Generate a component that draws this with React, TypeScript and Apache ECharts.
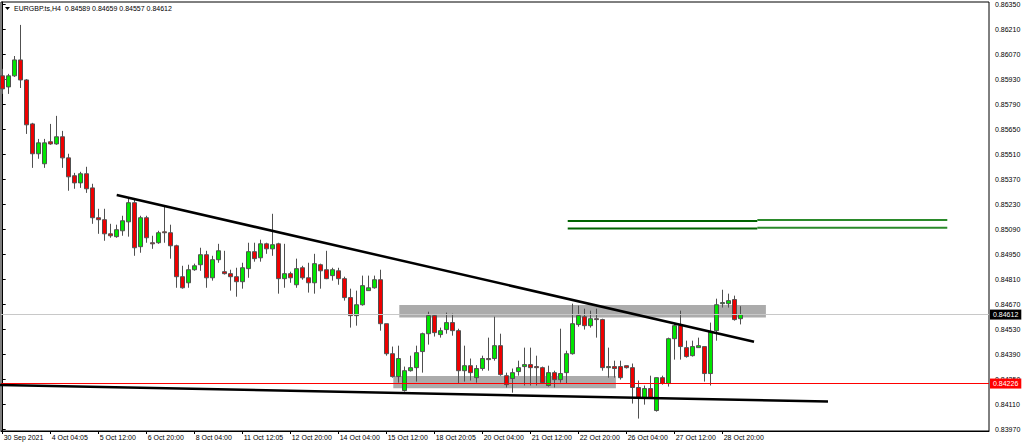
import React, { useEffect, useRef } from "react";
import * as echarts from "echarts";

const opens = [0.85948,0.85886,0.85948,0.86037,0.85925,0.85679,0.85512,0.85456,0.85579,0.85567,0.85607,0.85489,0.85389,0.85349,0.85400,0.85321,0.85154,0.85143,0.85064,0.85048,0.85081,0.85131,0.85238,0.84992,0.85154,0.85014,0.85014,0.85075,0.85070,0.84997,0.84824,0.84790,0.84863,0.84891,0.84947,0.84818,0.84919,0.84852,0.84841,0.84824,0.84796,0.84869,0.84964,0.84930,0.85008,0.84980,0.85008,0.84813,0.84841,0.84779,0.84874,0.84818,0.84790,0.84891,0.84863,0.84830,0.84857,0.84813,0.84707,0.84606,0.84667,0.84746,0.84762,0.84807,0.84561,0.84393,0.84265,0.84187,0.84298,0.84315,0.84405,0.84505,0.84606,0.84500,0.84528,0.84567,0.84522,0.84298,0.84326,0.84259,0.84310,0.84366,0.84366,0.84438,0.84270,0.84254,0.84293,0.84321,0.84332,0.84321,0.84315,0.84215,0.84287,0.84248,0.84287,0.84393,0.84556,0.84600,0.84550,0.84589,0.84584,0.84315,0.84321,0.84321,0.84326,0.84315,0.84204,0.84148,0.84198,0.84075,0.84259,0.84226,0.84477,0.84550,0.84427,0.84382,0.84427,0.84433,0.84282,0.84522,0.84673,0.84673,0.84696,0.84589];
const highs = [0.85987,0.85959,0.86059,0.86233,0.85930,0.85685,0.85595,0.85595,0.85679,0.85724,0.85640,0.85512,0.85405,0.85411,0.85439,0.85344,0.85204,0.85204,0.85120,0.85115,0.85165,0.85266,0.85260,0.85165,0.85165,0.85053,0.85081,0.85215,0.85115,0.85003,0.84885,0.84891,0.84897,0.84986,0.84969,0.84941,0.85008,0.84969,0.84863,0.84874,0.84902,0.85014,0.85014,0.85031,0.85014,0.85176,0.85014,0.85008,0.84852,0.84925,0.84885,0.84902,0.84952,0.84897,0.84969,0.84874,0.84874,0.84824,0.84757,0.84746,0.84830,0.84830,0.84830,0.84863,0.84561,0.84433,0.84438,0.84321,0.84382,0.84438,0.84511,0.84628,0.84612,0.84539,0.84623,0.84617,0.84533,0.84438,0.84366,0.84329,0.84382,0.84483,0.84600,0.84505,0.84287,0.84310,0.84354,0.84427,0.84427,0.84382,0.84321,0.84326,0.84298,0.84533,0.84410,0.84673,0.84662,0.84645,0.84634,0.84645,0.84589,0.84427,0.84354,0.84354,0.84326,0.84338,0.84243,0.84215,0.84270,0.84259,0.84270,0.84483,0.84561,0.84634,0.84466,0.84466,0.84483,0.84433,0.84567,0.84701,0.84751,0.84729,0.84718,0.84659];
const lows = [0.85847,0.85847,0.85942,0.85880,0.85623,0.85433,0.85484,0.85433,0.85562,0.85562,0.85433,0.85305,0.85316,0.85321,0.85293,0.85120,0.85064,0.85025,0.85042,0.85042,0.85053,0.85048,0.84941,0.84958,0.85014,0.84980,0.85008,0.85014,0.84925,0.84762,0.84757,0.84762,0.84857,0.84857,0.84762,0.84802,0.84902,0.84836,0.84746,0.84712,0.84757,0.84818,0.84908,0.84908,0.84952,0.84941,0.84729,0.84762,0.84790,0.84762,0.84807,0.84735,0.84729,0.84757,0.84810,0.84802,0.84779,0.84690,0.84539,0.84550,0.84662,0.84746,0.84757,0.84522,0.84382,0.84259,0.84231,0.84181,0.84293,0.84237,0.84287,0.84444,0.84489,0.84483,0.84505,0.84494,0.84226,0.84237,0.84243,0.84231,0.84298,0.84298,0.84354,0.84270,0.84204,0.84175,0.84270,0.84215,0.84215,0.84215,0.84226,0.84209,0.84204,0.84231,0.84226,0.84388,0.84544,0.84528,0.84539,0.84483,0.84298,0.84259,0.84259,0.84248,0.84310,0.84114,0.84030,0.84108,0.84142,0.84069,0.84220,0.84209,0.84360,0.84360,0.84371,0.84377,0.84427,0.84237,0.84215,0.84466,0.84651,0.84651,0.84578,0.84557];
const closes = [0.85875,0.85948,0.86037,0.85925,0.85674,0.85512,0.85573,0.85573,0.85567,0.85607,0.85489,0.85383,0.85349,0.85400,0.85316,0.85154,0.85143,0.85064,0.85053,0.85087,0.85137,0.85238,0.84986,0.85154,0.85042,0.85008,0.85070,0.85070,0.84997,0.84824,0.84762,0.84863,0.84885,0.84947,0.84818,0.84919,0.84969,0.84841,0.84824,0.84796,0.84874,0.84964,0.84925,0.85008,0.84980,0.85003,0.84813,0.84841,0.84818,0.84869,0.84818,0.84790,0.84897,0.84857,0.84813,0.84863,0.84813,0.84707,0.84606,0.84667,0.84774,0.84762,0.84807,0.84561,0.84393,0.84265,0.84366,0.84298,0.84315,0.84399,0.84505,0.84606,0.84511,0.84522,0.84567,0.84522,0.84298,0.84326,0.84287,0.84310,0.84366,0.84360,0.84438,0.84276,0.84220,0.84287,0.84315,0.84332,0.84315,0.84315,0.84231,0.84287,0.84248,0.84282,0.84393,0.84561,0.84606,0.84550,0.84589,0.84584,0.84315,0.84321,0.84310,0.84259,0.84315,0.84204,0.84148,0.84198,0.84148,0.84259,0.84226,0.84477,0.84550,0.84433,0.84377,0.84433,0.84438,0.84282,0.84516,0.84667,0.84679,0.84690,0.84584,0.84612];

const timeLabelIndex = [0, 8, 16, 24, 32, 40, 48, 56, 64, 72, 80, 88, 96, 104, 112, 120];
const timeLabels = ["30 Sep 2021", "4 Oct 04:05", "5 Oct 12:00", "6 Oct 20:00", "8 Oct 04:00", "11 Oct 12:05", "12 Oct 20:00", "14 Oct 04:00", "15 Oct 12:00", "18 Oct 20:05", "20 Oct 04:00", "21 Oct 12:00", "22 Oct 20:00", "26 Oct 04:00", "27 Oct 12:00", "28 Oct 20:00"];

const priceTicks = [0.8397, 0.8411, 0.8425, 0.8439, 0.8453, 0.8467, 0.8481, 0.8495, 0.8509, 0.8523, 0.8537, 0.8551, 0.8565, 0.8579, 0.8593, 0.8607, 0.8621, 0.8635];

const resistanceTrend = [[19, 0.85281], [125.22, 0.8446]];
const supportTrend = [[-0.45, 0.84218], [137.55, 0.84125]];
// [xStart, xEnd, low, high]
const zones = [[66.1, 127.2, 0.84596, 0.84666], [65.1, 102.2, 0.842, 0.84268]];
const greenUpperA = [[94.17, 0.85136], [125.77, 0.85136]];
const greenUpperB = [[125.77, 0.85141], [157.43, 0.85141]];
const greenLowerA = [[94.17, 0.85093], [125.77, 0.85093]];
const greenLowerB = [[125.77, 0.85098], [157.43, 0.85098]];
const bidPrice = 0.84612;
const levelPrice = 0.84226;
const titleText = "EURGBP.ts,H4  0.84589 0.84659 0.84557 0.84612";

const FONT = "Liberation Sans";

export default function App() {
  const ref = useRef<HTMLDivElement>(null);
  useEffect(() => {
    if (!ref.current) return;
    const chart = echarts.init(ref.current, null, { renderer: "svg" });
    const candles = opens.map((o, i) => [i, o, closes[i], lows[i], highs[i]]);
    const lineSeries = (data: number[][], color: string, width: number) => ({
      type: "line",
      data,
      symbol: "none",
      silent: true,
      z: 5,
      lineStyle: { color, width },
    });
    const priceLabel = (bg: string) => ({
      show: true,
      position: "end",
      distance: 1,
      formatter: (p: any) => Number(p.value).toFixed(5),
      backgroundColor: bg,
      color: "#fff",
      fontSize: 7,
      fontFamily: FONT,
      padding: [2, 3, 1, 3],
    });
    chart.setOption({
      animation: false,
      backgroundColor: "#ffffff",
      grid: { left: 1, right: 35, top: 2, bottom: 16, show: true, borderColor: "#000", borderWidth: 1 },
      xAxis: {
        type: "value",
        min: -0.2833,
        max: 164.383,
        splitLine: { show: false },
        axisLine: { show: true, lineStyle: { color: "#000", width: 1 } },
        axisTick: { show: true, length: 3, customValues: timeLabelIndex, lineStyle: { color: "#000" } },
        axisLabel: {
          customValues: timeLabelIndex,
          formatter: (v: number) => timeLabels[timeLabelIndex.indexOf(Math.round(v))] || "",
          align: "left",
          padding: [0, 0, 0, 1],
          margin: 3,
          fontSize: 7,
          fontFamily: FONT,
          color: "#000",
        },
      },
      yAxis: {
        type: "value",
        position: "right",
        min: 0.839605,
        max: 0.863612,
        scale: true,
        splitLine: { show: false },
        axisLine: { show: true, lineStyle: { color: "#000", width: 1 } },
        axisTick: { show: true, length: 3, customValues: priceTicks, lineStyle: { color: "#000" } },
        axisLabel: {
          customValues: priceTicks,
          formatter: (v: number) => v.toFixed(5),
          margin: 6,
          fontSize: 7,
          fontFamily: FONT,
          color: "#000",
        },
      },
      graphic: [
        { type: "polygon", shape: { points: [[5, 7], [10, 7], [7.5, 10]] }, style: { fill: "#000" } },
        { type: "text", x: 14, y: 8, style: { text: titleText, fontSize: 7, fontFamily: FONT, fill: "#000", verticalAlign: "middle" } },
      ],
      series: [
        {
          type: "custom",
          z: 1,
          silent: true,
          data: zones,
          encode: { x: [0, 1], y: [2, 3] },
          renderItem: (params: any, api: any) => {
            const p1 = api.coord([api.value(0), api.value(3)]);
            const p2 = api.coord([api.value(1), api.value(2)]);
            return {
              type: "rect",
              shape: { x: p1[0], y: p1[1], width: p2[0] - p1[0], height: p2[1] - p1[1] },
              style: { fill: "#ababab" },
            };
          },
          markLine: {
            symbol: "none",
            silent: true,
            precision: 5,
            data: [
              { yAxis: bidPrice, lineStyle: { color: "#c8c8c8", width: 1, type: "solid" }, label: priceLabel("#000") },
              { yAxis: levelPrice, lineStyle: { color: "#ff0000", width: 1, type: "solid" }, label: priceLabel("#ff0000") },
            ],
          },
        },
        {
          type: "candlestick",
          z: 3,
          silent: true,
          data: candles,
          encode: { x: 0, y: [1, 2, 3, 4] },
          barWidth: 4,
          itemStyle: { color: "#00e600", color0: "#ee0000", borderColor: "#505050", borderColor0: "#505050", borderWidth: 1 },
        },
        lineSeries(resistanceTrend, "#000", 2.5),
        lineSeries(supportTrend, "#000", 2.5),
        lineSeries(greenUpperA, "#006400", 2),
        lineSeries(greenUpperB, "#2a8a2a", 2),
        lineSeries(greenLowerA, "#006400", 2),
        lineSeries(greenLowerB, "#2a8a2a", 2),
      ],
    });
    return () => chart.dispose();
  }, []);
  return <div ref={ref} style={{ position: "absolute", left: 0, top: 0, width: 1024, height: 447 }} />;
}
